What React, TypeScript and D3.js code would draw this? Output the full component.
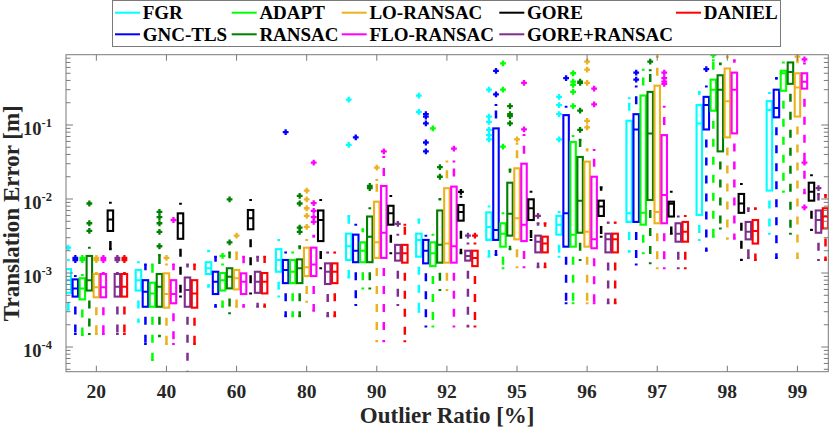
import React from "react";
import * as d3 from "d3";

// ---------- data ----------
const GROUPS = ["20", "40", "60", "80", "90", "92", "95", "96", "97", "98", "99"];
const METHODS = ["FGR", "GNC-TLS", "ADAPT", "RANSAC", "LO-RANSAC", "FLO-RANSAC", "GORE", "GORE+RANSAC", "DANIEL"];
const COLORS = ["#00FFFF", "#0000FF", "#00FF00", "#008000", "#EDB120", "#FF00FF", "#000000", "#7E2F8E", "#FF0000"];

// per group: [lower whisker, q1, median, q3, upper whisker]
const FGR_BOX = [
  [3.2e-4, 5.4e-4, 8.0e-4, 1.13e-3, 1.5e-3], [2.2e-4, 5.8e-4, 8.0e-4, 1.1e-3, 1.4e-3],
  [6.5e-4, 9.7e-4, 1.16e-3, 1.4e-3, 2.0e-3], [4.8e-4, 1.04e-3, 1.5e-3, 2.1e-3, 2.8e-3],
  [8.7e-4, 1.5e-3, 2.3e-3, 3.4e-3, 5.9e-3], [3.0e-4, 1.66e-3, 2.8e-3, 3.4e-3, 5.3e-3],
  [1.66e-3, 2.8e-3, 4.2e-3, 6.6e-3, 7.9e-3], [1.66e-3, 3.3e-3, 4.5e-3, 5.9e-3, 6.7e-3],
  [1.94e-3, 4.9e-3, 6.4e-3, 1.14e-1, 2.3e-1], [2.8e-3, 6.1e-3, 1.05e-1, 1.86e-1, 2.8e-1],
  [3.4e-3, 1.3e-2, 1.6e-1, 2.1e-1, 2.7e-1],
];
const GNC_BOX = [
  [1.5e-4, 4.8e-4, 6.2e-4, 8.2e-4, 9.1e-4], [1.1e-4, 3.5e-4, 5.6e-4, 8.0e-4, 1.3e-3],
  [3.5e-4, 5.2e-4, 7.6e-4, 1.04e-3, 1.66e-3], [2.6e-4, 7.3e-4, 1.1e-3, 1.5e-3, 1.9e-3],
  [3.7e-4, 1.4e-3, 2.0e-3, 3.3e-3, 4.5e-3], [1.9e-4, 1.35e-3, 2.0e-3, 2.8e-3, 3.2e-3],
  [1.75e-3, 2.8e-3, 3.8e-3, 9.0e-2, 1.86e-1], [3.9e-4, 2.27e-3, 6.4e-3, 1.36e-1, 1.77e-1],
  [1.3e-3, 4.9e-3, 8.7e-2, 1.4e-1, 3.3e-1], [2.0e-3, 8.7e-2, 1.86e-1, 2.4e-1, 3.3e-1],
  [1.6e-3, 1.27e-1, 1.7e-1, 3.0e-1, 4.3e-1],
];
const ADAPT_BOX = [
  [1.45e-4, 4.4e-4, 6.2e-4, 8.5e-4, 9.4e-4], [6.7e-5, 3.5e-4, 5.3e-4, 7.4e-4, 1.3e-3],
  [3.5e-4, 5.8e-4, 8.0e-4, 1.0e-3, 1.3e-3], [2.6e-4, 7.3e-4, 1.04e-3, 1.5e-3, 1.9e-3],
  [6.2e-4, 1.4e-3, 2.0e-3, 2.6e-3, 3.9e-3], [1.9e-4, 1.24e-3, 1.85e-3, 2.6e-3, 3.3e-3],
  [1.16e-3, 2.27e-3, 3.4e-3, 4.7e-3, 6.4e-3], [3.9e-4, 2.27e-3, 3.3e-3, 5.9e-2, 7.1e-2],
  [1.85e-3, 4.5e-3, 6.5e-3, 2.5e-1, 5.6e-1], [3.1e-3, 1.56e-1, 3.0e-1, 4.1e-1, 7.5e-1],
  [1.25e-2, 2.9e-1, 5.0e-1, 5.4e-1, 7.0e-1],
];
const RANSAC_BOX = [
  [1.5e-4, 5.8e-4, 8.0e-4, 1.7e-3, 2.2e-3], [1.4e-4, 3.5e-4, 6.5e-4, 9.7e-4, 1.75e-3],
  [2.85e-4, 6.2e-4, 8.9e-4, 1.16e-3, 1.9e-3], [2.6e-4, 7.3e-4, 1.16e-3, 1.53e-3, 2.3e-3],
  [6.2e-4, 1.4e-3, 3.1e-3, 5.8e-3, 7.5e-3], [5.9e-4, 1.38e-3, 2.4e-3, 7.0e-3, 1.0e-2],
  [2.1e-3, 3.2e-3, 6.3e-3, 1.66e-2, 2.5e-2], [1.5e-3, 3.5e-3, 9.5e-3, 3.7e-2, 6.3e-2],
  [1.35e-3, 9.7e-3, 7.7e-2, 2.8e-1, 5.5e-1], [4.0e-3, 4.4e-2, 3.0e-1, 4.7e-1, 6.8e-1],
  [3.4e-3, 3.6e-1, 5.2e-1, 7.0e-1, 9.3e-1],
];
const LO_BOX = [
  [1.5e-4, 4.7e-4, 6.4e-4, 9.7e-4, 1.0e-3], [1.1e-4, 3.4e-4, 5.2e-4, 9.9e-4, 1.3e-3],
  [3.5e-4, 6.0e-4, 8.5e-4, 1.1e-3, 1.9e-3], [4.1e-4, 9.1e-4, 1.2e-3, 2.2e-3, 2.8e-3],
  [1.2e-4, 1.6e-3, 2.6e-3, 9.2e-3, 1.8e-2], [5.9e-4, 1.38e-3, 2.5e-3, 1.4e-2, 3.2e-2],
  [1.2e-3, 2.85e-3, 5.5e-3, 2.6e-2, 5.6e-2], [3.9e-4, 2.27e-3, 3.6e-3, 3.2e-2, 4.7e-2],
  [1.16e-3, 4.7e-3, 6.7e-3, 3.4e-1, 8.4e-1], [2.9e-3, 6.8e-2, 2.1e-1, 5.8e-1, 8.4e-1],
  [1.6e-3, 1.3e-1, 3.2e-1, 5.0e-1, 7.5e-1],
];
const FLO_BOX = [
  [1.5e-4, 4.7e-4, 6.4e-4, 9.7e-4, 1.0e-3], [1.1e-4, 3.9e-4, 5.2e-4, 8.0e-4, 1.3e-3],
  [3.5e-4, 5.2e-4, 7.6e-4, 9.9e-4, 1.66e-3], [3.1e-4, 9.1e-4, 1.3e-3, 2.2e-3, 3.2e-3],
  [1.2e-4, 1.6e-3, 3.5e-3, 1.5e-2, 3.7e-2], [1.9e-4, 1.38e-3, 2.3e-3, 1.47e-2, 3.2e-2],
  [1.2e-3, 2.7e-3, 4.5e-3, 3.0e-2, 7.3e-2], [3.9e-4, 2.16e-3, 2.85e-3, 2.0e-2, 4.6e-2],
  [1.16e-3, 4.7e-3, 1.13e-2, 7.3e-2, 1.77e-1], [2.9e-3, 7.7e-2, 3.0e-1, 5.1e-1, 7.5e-1],
  [1.2e-2, 3.1e-1, 3.85e-1, 5.0e-1, 6.8e-1],
];
const GORE_BOX = [
  [2.1e-3, 3.7e-3, 5.3e-3, 7.0e-3, 8.9e-3], [4.8e-4, 2.9e-3, 4.7e-3, 6.4e-3, 8.6e-3],
  [5.3e-4, 3.9e-3, 5.5e-3, 7.1e-3, 9.7e-3], [1.16e-3, 2.7e-3, 5.2e-3, 7.0e-3, 9.7e-3],
  [1.85e-3, 4.5e-3, 6.4e-3, 8.1e-3, 1.1e-2], [1.85e-3, 5.1e-3, 6.7e-3, 8.3e-3, 1.07e-2],
  [2.8e-3, 5.2e-3, 7.5e-3, 9.9e-3, 1.25e-2], [3.1e-3, 5.9e-3, 7.9e-3, 9.5e-3, 1.44e-2],
  [3.4e-3, 5.8e-3, 8.6e-3, 9.2e-3, 1.25e-2], [1.5e-3, 6.5e-3, 8.7e-3, 1.17e-2, 1.6e-2],
  [3.8e-3, 9.5e-3, 1.25e-2, 1.66e-2, 2.1e-2],
];
const GORER_BOX = [
  [1.5e-4, 4.8e-4, 6.5e-4, 9.7e-4, 1.0e-3], [4.0e-5, 3.5e-4, 5.9e-4, 8.7e-4, 1.3e-3],
  [3.5e-4, 5.4e-4, 7.6e-4, 1.04e-3, 1.66e-3], [2.6e-4, 7.1e-4, 1.04e-3, 1.35e-3, 1.9e-3],
  [3.7e-4, 1.47e-3, 1.85e-3, 2.4e-3, 3.3e-3], [1.9e-4, 1.47e-3, 1.7e-3, 2.0e-3, 2.5e-3],
  [1.2e-3, 1.9e-3, 2.65e-3, 3.2e-3, 4.7e-3], [3.9e-4, 1.9e-3, 2.85e-3, 3.4e-3, 4.8e-3],
  [1.16e-3, 2.65e-3, 3.4e-3, 4.7e-3, 5.8e-3], [1.6e-3, 2.85e-3, 3.6e-3, 4.9e-3, 7.5e-3],
  [1.5e-3, 3.5e-3, 5.2e-3, 7.0e-3, 1.17e-2],
];
const DANIEL_BOX = [
  [1.5e-4, 4.8e-4, 6.5e-4, 9.7e-4, 1.0e-3], [1.1e-4, 3.4e-4, 5.3e-4, 8.0e-4, 1.3e-3],
  [3.5e-4, 5.3e-4, 7.6e-4, 1.0e-3, 1.66e-3], [2.6e-4, 7.3e-4, 1.04e-3, 1.35e-3, 1.9e-3],
  [1.2e-4, 1.38e-3, 1.85e-3, 2.4e-3, 4.5e-3], [1.9e-4, 1.24e-3, 1.6e-3, 2.0e-3, 2.5e-3],
  [1.2e-3, 1.9e-3, 2.5e-3, 3.1e-3, 4.7e-3], [3.9e-4, 1.9e-3, 2.85e-3, 3.4e-3, 4.8e-3],
  [1.16e-3, 2.65e-3, 3.6e-3, 4.9e-3, 5.9e-3], [1.5e-3, 2.5e-3, 3.7e-3, 5.2e-3, 7.5e-3],
  [1.5e-3, 4.0e-3, 5.8e-3, 7.5e-3, 1.13e-2],
];

// outliers per group
const FGR_OUT = [[2.2e-3], [], [], [], [2.2e-1, 5.4e-2], [2.5e-1, 1.5e-1],
  [3.0e-1, 1.3e-1, 1.1e-1, 8.6e-2, 7.3e-2, 6.4e-2], [2.4e-1, 1.86e-1, 1.4e-1, 6.4e-2], [], [], []];
const GNC_OUT = [[1.6e-3, 1.5e-3], [], [], [8.0e-2], [6.8e-2], [1.4e-1, 1.3e-1, 1.05e-1, 5.8e-2, 4.4e-2],
  [5.4e-1, 2.6e-1], [4.3e-1], [5.1e-1, 4.1e-1], [5.7e-1], []];
const ADAPT_OUT = [[1.6e-3, 1.5e-3], [], [1.7e-3], [], [], [9.0e-2], [6.8e-1, 3.0e-1, 5.1e-2],
  [5.0e-1, 3.85e-1, 3.5e-1, 2.8e-1, 1.8e-1], [], [8.8e-1], []];
const RANSAC_OUT = [[8.7e-3, 4.7e-3, 3.7e-3], [6.7e-3, 5.7e-3, 4.7e-3, 3.6e-3, 2.3e-3], [9.9e-3, 2.6e-3],
  [1.1e-2, 8.7e-3, 4.1e-3, 3.6e-3], [1.5e-2, 1.4e-2], [2.7e-2, 2.0e-2], [1.8e-1, 1.4e-1, 1.32e-1, 1.05e-1],
  [3.85e-1, 3.7e-1, 1.56e-1, 8.6e-2], [7.2e-1], [], []];
const LO_OUT = [[1.6e-3, 1.5e-3], [1.6e-3], [3.2e-3], [1.3e-2, 9.9e-3, 7.5e-3, 5.9e-3, 4.2e-3], [2.65e-2], [],
  [6.4e-2], [7.2e-1, 5.6e-1, 3.7e-1, 1.14e-1, 9.3e-2], [], [], [8.4e-1]];
const FLO_OUT = [[1.6e-3, 1.5e-3], [5.2e-3], [], [3.1e-2, 8.8e-3, 6.9e-3, 5.7e-3, 4.9e-3], [4.4e-2], [4.8e-2],
  [3.7e-1, 8.7e-2], [3.1e-1, 1.9e-1], [5.1e-1, 4.3e-1, 3.85e-1, 3.6e-1], [], [7.7e-1, 3.1e-2, 7.7e-3]];
const GORE_OUT = [[], [], [], [], [], [1.25e-2], [], [], [], [], []];
const GORER_OUT = [[1.6e-3, 1.5e-3], [], [], [], [4.6e-3], [3.2e-3], [5.9e-3], [], [], [], [1.4e-2]];
const DANIEL_OUT = [[1.6e-3, 1.5e-3], [], [], [], [], [3.2e-3], [], [], [], [], []];

const BOXES = [FGR_BOX, GNC_BOX, ADAPT_BOX, RANSAC_BOX, LO_BOX, FLO_BOX, GORE_BOX, GORER_BOX, DANIEL_BOX];
const OUTS = [FGR_OUT, GNC_OUT, ADAPT_OUT, RANSAC_OUT, LO_OUT, FLO_OUT, GORE_OUT, GORER_OUT, DANIEL_OUT];

const Y_MAJOR = [1e-4, 1e-3, 1e-2, 1e-1];
const Y_MAJOR_EXP = ["-4", "-3", "-2", "-1"];

// ---------- layout ----------
const W = 830;
const H = 429;
const PL = 66;
const PR = 828.3;
const PT = 54.7;
const PB = 371.7;
const FONT = "'Liberation Serif', 'Times New Roman', serif";
const AX = "#7a7a7a";
const TXT = "#262626";
const LEG_COL_X = [115, 231.7, 341.7, 499.3, 676];
const LEG_ROW_Y = [12.7, 34.3];

export default function App() {
  const x = d3.scaleLinear().domain([-0.33, 108.4]).range([PL, PR]);
  const y = d3.scaleLog().domain([4.64e-5, 0.891]).range([PB, PT]);
  const step = x(1) - x(0);
  const bw = step * 0.78;
  const pos = (g: number, j: number) => x(g * 10 + j);

  const minor: number[] = [];
  for (let k = -5; k <= 0; k++) {
    for (let m = 2; m <= 9; m++) {
      const v = m * Math.pow(10, k);
      if (v >= 4.64e-5 && v <= 0.891) minor.push(v);
    }
  }

  const marks: React.ReactNode[] = [];
  GROUPS.forEach((_, g) => {
    METHODS.forEach((__, j) => {
      const s = BOXES[j][g];
      const c = COLORS[j];
      const cx = pos(g, j);
      const [lo, q1, med, q3, hi] = s.map((v) => y(v));
      const key = `${g}-${j}`;
      marks.push(
        <g key={key}>
          <line x1={cx} x2={cx} y1={q3} y2={hi} stroke={c} strokeWidth={2.5}
            strokeDasharray="8 10" strokeDashoffset={8} />
          <line x1={cx} x2={cx} y1={q1} y2={lo} stroke={c} strokeWidth={2.5}
            strokeDasharray="8 10" strokeDashoffset={8} />
          <line x1={cx - bw / 4} x2={cx + bw / 4} y1={hi} y2={hi} stroke={c} strokeWidth={2} />
          <line x1={cx - bw / 4} x2={cx + bw / 4} y1={lo} y2={lo} stroke={c} strokeWidth={2} />
          <rect x={cx - bw / 2} y={q3} width={bw} height={Math.max(0.5, q1 - q3)} fill="none"
            stroke={c} strokeWidth={2.1} />
          <line x1={cx - bw / 2} x2={cx + bw / 2} y1={med} y2={med} stroke={c} strokeWidth={2} />
          {OUTS[j][g].map((v, k) => {
            const oy = y(v);
            const r = 2.9;
            return (
              <path key={k} d={`M${cx - r},${oy}H${cx + r}M${cx},${oy - r}V${oy + r}`}
                stroke={c} strokeWidth={2.3} fill="none" />
            );
          })}
        </g>
      );
    });
  });

  return (
    <div style={{ position: "absolute", left: 0, top: 0, width: W, height: H, background: "#fff" }}>
      <svg width={W} height={H} viewBox={`0 0 ${W} ${H}`} style={{ display: "block" }} fontFamily={FONT}>
        <rect x={0} y={0} width={W} height={H} fill="#fff" />
        <defs>
          <clipPath id="plotclip">
            <rect x={PL} y={PT} width={PR - PL} height={PB - PT} />
          </clipPath>
        </defs>

        <g clipPath="url(#plotclip)">{marks}</g>

        {/* axes box */}
        <rect x={PL} y={PT} width={PR - PL} height={PB - PT} fill="none" stroke={AX} strokeWidth={1} />

        {/* y ticks */}
        {Y_MAJOR.map((v) => (
          <g key={`ym${v}`}>
            <line x1={PL} x2={PL + 7} y1={y(v)} y2={y(v)} stroke={AX} strokeWidth={1} />
            <line x1={PR} x2={PR - 7} y1={y(v)} y2={y(v)} stroke={AX} strokeWidth={1} />
          </g>
        ))}
        {minor.map((v) => (
          <g key={`yn${v}`}>
            <line x1={PL} x2={PL + 4.5} y1={y(v)} y2={y(v)} stroke={AX} strokeWidth={1} />
            <line x1={PR} x2={PR - 4.5} y1={y(v)} y2={y(v)} stroke={AX} strokeWidth={1} />
          </g>
        ))}
        {Y_MAJOR.map((v, i) => (
          <text key={`yl${v}`} x={52} y={y(v) + 10} textAnchor="end" fontWeight="bold" fill={TXT}>
            <tspan fontSize={18.5}>10</tspan>
            <tspan fontSize={12.5} dy={-8.3}>{Y_MAJOR_EXP[i]}</tspan>
          </text>
        ))}

        {/* x ticks */}
        {GROUPS.map((lab, g) => {
          const tx = pos(g, 4);
          return (
            <g key={`xt${lab}`}>
              <line x1={tx} x2={tx} y1={PB} y2={PB - 6} stroke={AX} strokeWidth={1} />
              <line x1={tx} x2={tx} y1={PT} y2={PT + 6} stroke={AX} strokeWidth={1} />
              <text x={tx} y={398.3} textAnchor="middle" fontSize={19.5} fontWeight="bold" fill={TXT}>
                {lab}
              </text>
            </g>
          );
        })}

        {/* axis labels */}
        <text x={(PL + PR) / 2} y={423} textAnchor="middle" fontSize={23} fontWeight="bold" fill={TXT}>
          Outlier Ratio [%]
        </text>
        <text transform={`translate(19,${(PT + PB) / 2}) rotate(-90)`} textAnchor="middle"
          fontSize={23} fontWeight="bold" fill={TXT}>
          Translation Error [m]
        </text>

        {/* legend */}
        <rect x={112.5} y={0.5} width={668} height={46} fill="#fff" stroke={AX} strokeWidth={1} />
        {METHODS.map((m, i) => {
          const col = Math.floor(i / 2);
          const row = i % 2;
          const lx = LEG_COL_X[col];
          const ly = LEG_ROW_Y[row];
          return (
            <g key={`lg${m}`}>
              <line x1={lx} x2={lx + 25} y1={ly} y2={ly} stroke={COLORS[i]} strokeWidth={2} />
              <text x={lx + 27.7} y={ly + 6.7} fontSize={19} fontWeight="bold" fill="#000">
                {m}
              </text>
            </g>
          );
        })}
      </svg>
    </div>
  );
}
